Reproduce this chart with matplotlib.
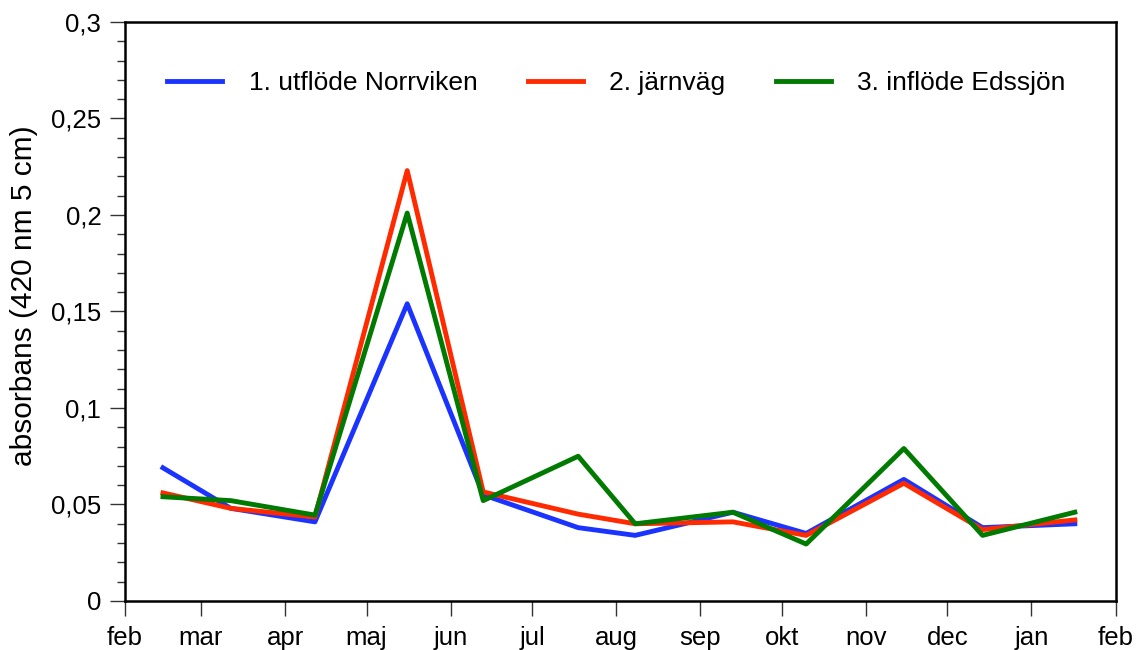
import matplotlib
matplotlib.use("Agg")
import matplotlib.pyplot as plt
from matplotlib.ticker import MultipleLocator, FuncFormatter
import datetime as dt

plt.rcParams['font.family'] = ['Liberation Sans', 'DejaVu Sans']

# provtagningsdatum
dates = ['2009-02-15', '2009-03-12', '2009-04-12', '2009-05-16', '2009-06-13', '2009-07-18',
         '2009-08-08', '2009-09-13', '2009-10-10', '2009-11-15', '2009-12-14', '2010-01-17']
utflode_norrviken = [0.069, 0.048, 0.041, 0.154, 0.055, 0.038, 0.034, 0.046, 0.035, 0.063, 0.038, 0.040]
jarnvag = [0.056, 0.048, 0.0435, 0.223, 0.0565, 0.045, 0.040, 0.041, 0.034, 0.061, 0.037, 0.042]
inflode_edssjon = [0.054, 0.052, 0.0445, 0.201, 0.052, 0.075, 0.040, 0.046, 0.0295, 0.079, 0.034, 0.046]

month_names = ['feb', 'mar', 'apr', 'maj', 'jun', 'jul', 'aug', 'sep', 'okt', 'nov', 'dec', 'jan', 'feb']
month_starts = [dt.date(2009 + (m // 12), m % 12 + 1, 1) for m in range(1, 14)]

x = [dt.datetime.strptime(d, '%Y-%m-%d') for d in dates]

fig = plt.figure(figsize=(11.36, 6.5), dpi=100)
ax = fig.add_axes([0.110, 0.0754, 0.872, 0.8908])

ax.plot(x, utflode_norrviken, color='#1a33ff', lw=3.5, label='1. utflöde Norrviken')
ax.plot(x, jarnvag, color='#ff2a00', lw=3.5, label='2. järnväg')
ax.plot(x, inflode_edssjon, color='#007a00', lw=3.5, label='3. inflöde Edssjön')

ax.set_xlim(month_starts[0], month_starts[-1])
ax.set_ylim(0, 0.3)
ax.set_xticks(month_starts)
ax.set_xticklabels(month_names)
ax.yaxis.set_major_locator(MultipleLocator(0.05))
ax.yaxis.set_minor_locator(MultipleLocator(0.01))
ax.yaxis.set_major_formatter(FuncFormatter(lambda v, p: ('%g' % round(v, 3)).replace('.', ',')))

for s in ax.spines.values():
    s.set_linewidth(1.8)
ax.tick_params(axis='both', which='major', direction='out', length=11, width=1.0,
               color='#333333', labelsize=18.5)
ax.tick_params(axis='y', which='minor', direction='out', length=6, width=1.0, color='#333333')
ax.tick_params(axis='x', pad=7)
ax.tick_params(axis='y', pad=6)

ax.set_ylabel('absorbans (420 nm 5 cm)', fontsize=21.5)
ax.yaxis.set_label_coords(-0.088, 0.528)

ax.legend(loc='center', bbox_to_anchor=(0.496, 0.895), ncol=3, frameon=False,
          fontsize=19, handlelength=2.1, handletextpad=1.0, columnspacing=1.9)

fig.savefig('out.png', dpi=100)
